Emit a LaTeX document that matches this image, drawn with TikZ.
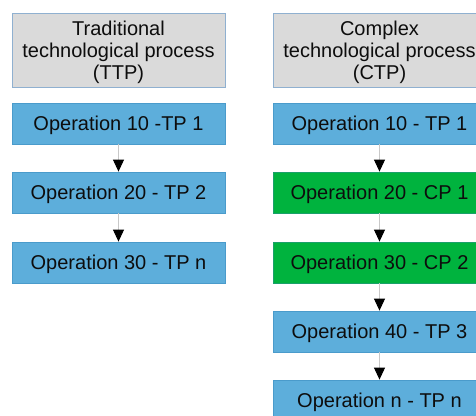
\documentclass[tikz,border=0pt]{standalone}
\usepackage{fontspec}
\setmainfont{Liberation Sans}
\usetikzlibrary{arrows.meta}
\definecolor{hdrfill}{HTML}{DADADA}
\definecolor{hdrline}{HTML}{8FB0D0}
\definecolor{tpfill}{HTML}{5DAEDB}
\definecolor{tpline}{HTML}{4A9BCB}
\definecolor{cpfill}{HTML}{00B33E}
\definecolor{cpline}{HTML}{1AA06A}
\definecolor{linkgray}{HTML}{C8C8C8}
\tikzset{
  hdr/.style={draw=hdrline, fill=hdrfill, line width=0.8pt, minimum width=213pt,
    minimum height=74pt, inner sep=0pt, align=center, text depth=0pt,
    font=\fontsize{20pt}{22pt}\selectfont, text=black!95},
  tpbox/.style={draw=tpline, fill=tpfill, line width=0.8pt, minimum width=213pt,
    minimum height=41pt, inner sep=0pt, text height=14.3pt, text depth=1.2pt,
    font=\fontsize{20pt}{22pt}\selectfont, text=black!95},
  cpbox/.style={tpbox, draw=cpline, fill=cpfill},
  link/.style={draw=linkgray, line width=1pt,
    -{Triangle[length=12pt,width=11pt,black]}}
}
\begin{document}
\begin{tikzpicture}[x=1pt,y=-1pt]
\useasboundingbox (0,0) rectangle (476,415);
\clip (0,0) rectangle (476,415);
% traditional process column
\node[hdr] (th) at (118.5,50) {Traditional\\technological process\\(TTP)};
\node[tpbox] (t1) at (118.5,123.5) {Operation 10 -TP 1};
\node[tpbox] (t2) at (118.5,192.5) {Operation 20 - TP 2};
\node[tpbox] (t3) at (118.5,262.5) {Operation 30 - TP n};
% complex process column
\node[hdr] (ch) at (379.5,50) {Complex\\technological process\\(CTP)};
\node[tpbox] (c1) at (379.5,123.5) {Operation 10 - TP 1};
\node[cpbox] (c2) at (379.5,192.5) {Operation 20 - CP 1};
\node[cpbox] (c3) at (379.5,262.5) {Operation 30 - CP 2};
\node[tpbox] (c4) at (379.5,331.5) {Operation 40 - TP 3};
\node[tpbox] (c5) at (379.5,400.5) {Operation n - TP n};
% connectors
\draw[link] (t1.south) -- (t2.north);
\draw[link] (t2.south) -- (t3.north);
\draw[link] (c1.south) -- (c2.north);
\draw[link] (c2.south) -- (c3.north);
\draw[link] (c3.south) -- (c4.north);
\draw[link] (c4.south) -- (c5.north);
\end{tikzpicture}
\end{document}
